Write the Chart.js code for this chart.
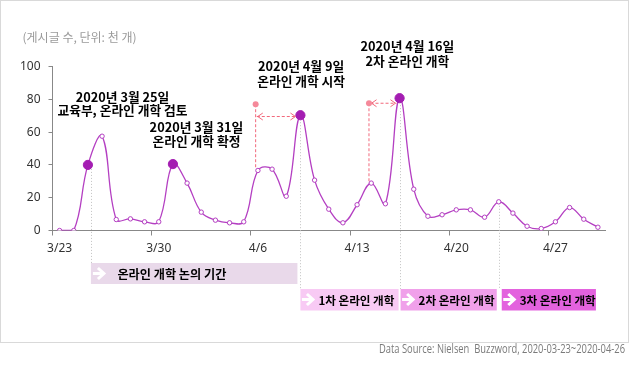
<!DOCTYPE html>
<html><head><meta charset="utf-8">
<script src="https://cdn.jsdelivr.net/npm/chart.js@4"></script>
<style>html,body{margin:0;padding:0;background:#fff}#wrap{width:630px;height:365px;position:relative}</style>
</head><body><div id="wrap"><canvas id="c" width="630" height="365"></canvas></div>
<script>
// ---- data ----
const categories = ['3/23','3/24','3/25','3/26','3/27','3/28','3/29','3/30','3/31',
  '4/1','4/2','4/3','4/4','4/5','4/6','4/7','4/8','4/9','4/10',
  '4/11','4/12','4/13','4/14','4/15','4/16','4/17','4/18','4/19','4/20',
  '4/21','4/22','4/23','4/24','4/25','4/26','4/27','4/28','4/29','4/30'];
const posts = [0,0,40,57.5,6.7,7.1,5.3,5.3,40.5,
  28.9,11.2,6.3,4.7,5.3,36.6,37.4,20.9,70.3,30.7,
  13.0,4.7,15.7,28.9,16.3,80.7,25.2,8.7,9.6,12.6,
  12.6,8.1,17.5,10.6,2.6,1.2,5.3,14.0,6.9,2.0];
const tickLabels = ['3/23','3/30','4/6','4/13','4/20','4/27'];
const yTicks = [0,20,40,60,80,100];
const milestones = ['3/25','3/31','4/9','4/16'];
const noteLines = [
  ['2020년 3월 25일','교육부, 온라인 개학 검토'],
  ['2020년 3월 31일','온라인 개학 확정'],
  ['2020년 4월 9일','온라인 개학 시작'],
  ['2020년 4월 16일','2차 온라인 개학']
];
const discussion = {label:'온라인 개학 논의 기간', from:'3/25', to:'4/9'};
const phases = [
  {label:'1차 온라인 개학', from:'4/9', to:'4/16'},
  {label:'2차 온라인 개학', from:'4/16', to:'4/23'},
  {label:'3차 온라인 개학', from:'4/23', to:'4/30'}
];
const unitLabel = '(게시글 수, 단위: 천 개)';
const sourceLabel = 'Data Source: Nielsen  Buzzword, 2020-03-23~2020-04-26';

// ---- styles / layout ----
const LINE = '#b43fc2', BIG = '#a41db2', RED = '#f2687b';
const KFONT = "'Noto Sans CJK KR', sans-serif";
const phaseColors = ['#f8caf4','#f0a0ea','#e362de'];
const notePos = [
  {i:4.44, v:[81.1,73.4]},
  {i:9.66, v:[62.8,54.6]},
  {i:17.05, v:[100,90.8]},
  {i:24.55, v:[112.2,103]}
];
const noteWidths = [[91,133],[90,94],[85,90],[89,85]];
const arrows = [
  {dotI:13.84, dotV:77, downTo:38, hV:69.5, fromI:13.92, toI:16.72},
  {dotI:21.84, dotV:77.6, downTo:29, hV:77.6, fromI:21.95, toI:23.78}
];

Chart.defaults.font.family = "'Noto Sans', 'Noto Sans CJK KR', sans-serif";

function idx(lab){ return categories.indexOf(lab); }
function fitSize(ctx, text, weight, target){
  ctx.font = weight+" 20px "+KFONT;
  return 20*target/ctx.measureText(text).width;
}

function drawBoxArrow(ctx, x, cy){
  ctx.save();
  ctx.strokeStyle = '#fff'; ctx.lineWidth = 3; ctx.lineJoin='miter'; ctx.setLineDash([]);
  ctx.beginPath(); ctx.moveTo(x, cy); ctx.lineTo(x+10, cy); ctx.stroke();
  ctx.beginPath(); ctx.moveTo(x+5, cy-5.5); ctx.lineTo(x+11, cy); ctx.lineTo(x+5, cy+5.5); ctx.stroke();
  ctx.restore();
}
function chevron(ctx, x, y, dir){
  ctx.beginPath(); ctx.moveTo(x - dir*5, y-3.5); ctx.lineTo(x, y); ctx.lineTo(x - dir*5, y+3.5); ctx.stroke();
}

const annot = {
  id:'annot',
  beforeDraw(chart){
    const ctx = chart.ctx;
    ctx.save();
    ctx.fillStyle='#fff'; ctx.fillRect(0,0,chart.width,chart.height);
    ctx.strokeStyle='#d9d9d9'; ctx.lineWidth=1;
    ctx.strokeRect(0.5,0.5,628,342);
    ctx.restore();
  },
  beforeDatasetsDraw(chart){
    const ctx = chart.ctx, xs = chart.scales.x, ys = chart.scales.y;
    ctx.save();
    ctx.strokeStyle='#c2c2c2'; ctx.lineWidth=1; ctx.setLineDash([1,2]);
    const guides = [
      {i:idx('3/25'), dx:3, bottom:284},
      {i:idx('4/9'), dx:0, bottom:289},
      {i:idx('4/16'), dx:0, bottom:289},
      {i:idx('4/23'), dx:0, bottom:289}
    ];
    guides.forEach(g=>{
      const x = Math.round(xs.getPixelForValue(g.i)+g.dx)+0.5;
      const y = ys.getPixelForValue(posts[g.i]);
      ctx.beginPath(); ctx.moveTo(x, y+4); ctx.lineTo(x, g.bottom); ctx.stroke();
    });
    ctx.restore();
  },
  afterDraw(chart){
    const ctx = chart.ctx, xs = chart.scales.x, ys = chart.scales.y;
    ctx.save();
    ctx.textBaseline='middle';
    // unit label
    const us = fitSize(ctx, unitLabel, 'normal', 114);
    ctx.fillStyle='#9a9a9a'; ctx.font = us.toFixed(2)+"px "+KFONT; ctx.textAlign='left';
    ctx.fillText(unitLabel, 22.5, 37);
    // source
    ctx.fillStyle='#7a7a7a'; ctx.font="12px 'Open Sans', sans-serif"; ctx.textAlign='right';
    ctx.fillText(sourceLabel, 625, 350, 246);
    // notes: one common size fitted to the reference line widths
    let sum = 0, n = 0;
    noteLines.forEach((lines,k)=> lines.forEach((t,j)=>{ sum += fitSize(ctx, t, 'bold', noteWidths[k][j]); n++; }));
    const ns = sum/n;
    ctx.fillStyle='#000'; ctx.font = "bold "+ns.toFixed(2)+"px "+KFONT; ctx.textAlign='center';
    noteLines.forEach((lines,k)=>{
      const p = notePos[k], x = xs.getPixelForValue(p.i);
      lines.forEach((t,j)=> ctx.fillText(t, x, ys.getPixelForValue(p.v[j])));
    });
    // arrows
    arrows.forEach(a=>{
      const dx = xs.getPixelForValue(a.dotI), dy = ys.getPixelForValue(a.dotV);
      const by = ys.getPixelForValue(a.downTo);
      const hy = ys.getPixelForValue(a.hV);
      const x1 = xs.getPixelForValue(a.fromI), x2 = xs.getPixelForValue(a.toI);
      ctx.strokeStyle = RED; ctx.lineWidth=1; ctx.setLineDash([3,2]);
      ctx.beginPath(); ctx.moveTo(dx, dy); ctx.lineTo(dx, by); ctx.stroke();
      ctx.beginPath(); ctx.moveTo(x1, hy); ctx.lineTo(x2, hy); ctx.stroke();
      ctx.setLineDash([]);
      chevron(ctx, x1+1, hy, -1); chevron(ctx, x2-1, hy, 1);
      ctx.fillStyle = '#f5899a'; ctx.beginPath(); ctx.arc(dx, dy, 3, 0, Math.PI*2); ctx.fill();
    });
    // discussion box
    let L = xs.getPixelForValue(idx(discussion.from))+3, R = xs.getPixelForValue(idx(discussion.to))-3;
    ctx.fillStyle = '#e9d9ea'; ctx.fillRect(L, 263, R-L, 21);
    drawBoxArrow(ctx, L+2, 273.5);
    const ds = fitSize(ctx, discussion.label, 'bold', 109);
    ctx.fillStyle='#000'; ctx.font="bold "+ds.toFixed(2)+"px "+KFONT; ctx.textAlign='left';
    ctx.fillText(discussion.label, L+26.5, 274);
    // phase boxes
    const ps = fitSize(ctx, phases[0].label, 'bold', 76);
    const insets = [[0,-1],[1,-2],[3,-2]];
    phases.forEach((p,k)=>{
      const l = xs.getPixelForValue(idx(p.from))+insets[k][0], r = xs.getPixelForValue(idx(p.to))+insets[k][1];
      ctx.fillStyle = phaseColors[k]; ctx.fillRect(l, 289, r-l, 21.5);
      drawBoxArrow(ctx, l+1.5, 299.5);
      ctx.fillStyle='#000'; ctx.font="bold "+ps.toFixed(2)+"px "+KFONT; ctx.textAlign='left';
      ctx.fillText(p.label, l+18, 300.5);
    });
    ctx.restore();
  }
};

new Chart(document.getElementById('c'), {
  type:'line',
  data:{labels:categories, datasets:[{
    data: posts,
    borderColor: LINE, borderWidth:1.3, tension:0.4,
    pointRadius: categories.map(c => milestones.includes(c) ? 4.6 : 2.2),
    pointBackgroundColor: categories.map(c => milestones.includes(c) ? BIG : '#fff'),
    pointBorderColor: categories.map(c => milestones.includes(c) ? BIG : LINE),
    pointBorderWidth: 1,
    fill:false
  }]},
  options:{
    responsive:false, animation:false,
    layout:{padding:{left:0,right:25,top:66.5,bottom:104.5}},
    plugins:{legend:{display:false}, tooltip:{enabled:false}},
    scales:{
      x:{type:'category', offset:true,
        grid:{offset:true, drawOnChartArea:false, tickLength:5,
          color: c => (c.index!==undefined && c.index%7===0) ? '#888' : 'rgba(0,0,0,0)'},
        border:{color:'#888'},
        ticks:{autoSkip:false, maxRotation:0, minRotation:0, padding:6, color:'#333', font:{size:12},
          callback:(v,i)=> tickLabels.includes(categories[i]) ? categories[i] : ''},
        afterFit: s => { s.height = 30; }
      },
      y:{min:0, max:100,
        afterBuildTicks: s => { s.ticks = yTicks.map(v=>({value:v})); },
        grid:{drawOnChartArea:false, tickLength:4, color:'#888'},
        border:{color:'#888'},
        ticks:{padding:8, color:'#333', font:{size:12}},
        afterFit: s => { s.width = 52.5; }
      }
    }
  },
  plugins:[annot]
});
</script></body></html>
